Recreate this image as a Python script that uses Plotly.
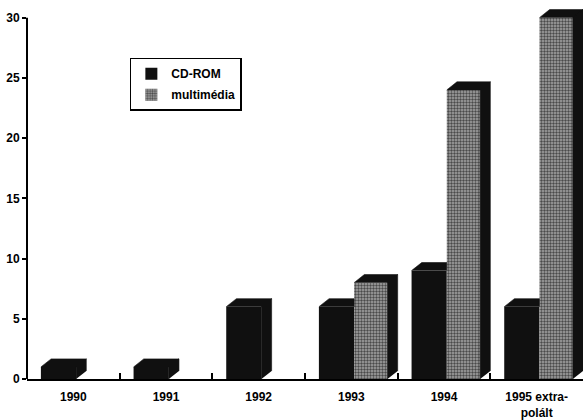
import plotly.graph_objects as go

# Data
years = ["1990", "1991", "1992", "1993", "1994", "1995 extra-<br>polált"]
cdrom = [1, 1, 6, 6, 9, 6]
multimedia = [0, 0, 0, 8, 24, 30]
y_ticks = [0, 5, 10, 15, 20, 25, 30]

# Bar geometry (in category units) and pseudo-3D depth
CD_OFF, CD_W = -0.35, 0.38
MM_OFF, MM_W = 0.03, 0.36
DX, DY = 0.11, 0.67

xs = list(range(len(years)))
FONT = "Liberation Sans"
INK = "#101010"

fig = go.Figure()

fig.add_trace(go.Bar(
    x=xs, y=cdrom, name="CD-ROM", offset=CD_OFF, width=CD_W,
    marker=dict(color=INK, line=dict(width=0)),
    legendgroup="a",
))
fig.add_trace(go.Bar(
    x=xs, y=multimedia, name="multimédia", offset=MM_OFF, width=MM_W,
    marker=dict(color="#8e8e8e", line=dict(width=0),
                pattern=dict(shape=".", bgcolor="#a6a6a6", fgcolor="#4a4a4a",
                             size=3, solidity=0.5, fillmode="replace")),
    legendgroup="b",
))

# Depth faces (top and right side) built from the bar values
px_, py_ = [], []


def face(pts):
    for a, b in pts:
        px_.append(a)
        py_.append(b)
    px_.append(None)
    py_.append(None)


for i, (c, m) in enumerate(zip(cdrom, multimedia)):
    if c > 0:
        x0, x1 = i + CD_OFF, i + CD_OFF + CD_W
        hidden = m >= c + DY
        right = x1 if hidden else x1 + DX
        face([(x0, c), (x0 + DX, c + DY), (right, c + DY), (x1, c)])
        if not hidden:
            face([(x1, 0), (x1, c), (x1 + DX, c + DY), (x1 + DX, DY)])
    if m > 0:
        x0, x1 = i + MM_OFF, i + MM_OFF + MM_W
        face([(x0, m), (x0 + DX, m + DY), (x1 + DX, m + DY), (x1, m)])
        face([(x1, 0), (x1, m), (x1 + DX, m + DY), (x1 + DX, DY)])

# Drawn on the overlaid axis (same range) so that its ticks get rendered
fig.add_trace(go.Scatter(
    x=px_, y=py_, xaxis="x2", mode="lines", fill="toself", fillcolor=INK,
    line=dict(width=0.6, color=INK), showlegend=False, hoverinfo="skip",
))

fig.update_layout(
    width=583, height=420,
    margin=dict(l=27, r=0, t=8, b=41),
    paper_bgcolor="white", plot_bgcolor="white",
    showlegend=True,
    legend=dict(
        x=0.185, y=0.866, xanchor="left", yanchor="top",
        bordercolor="black", borderwidth=1.5, bgcolor="white",
        font=dict(family=FONT, size=12, color="black", weight="bold"),
        traceorder="grouped", tracegroupgap=2,
        itemwidth=30,
    ),
    font=dict(family=FONT, color="black"),
)

fig.update_xaxes(
    range=[-0.5, 5.5],
    tickvals=xs, ticktext=years, ticks="", ticklabelstandoff=6,
    tickfont=dict(family=FONT, size=12, color="black", weight="bold"),
    showgrid=False, zeroline=False,
    showline=True, linecolor="black", linewidth=2,
)

# Overlaid axis carrying the small upward ticks between categories
fig.update_layout(xaxis2=dict(
    overlaying="x", anchor="y", side="bottom", range=[-0.5, 5.5],
    tickvals=[i + 0.5 for i in xs[:-1]], ticks="inside", ticklen=6,
    tickwidth=2, tickcolor="black", showticklabels=False,
    showgrid=False, zeroline=False, showline=False,
))

fig.update_yaxes(
    range=[0, 30.8],
    tickvals=y_ticks, ticks="outside", ticklen=4, tickwidth=2,
    tickcolor="black",
    tickfont=dict(family=FONT, size=12, color="black", weight="bold"),
    showgrid=False, zeroline=False, showline=False,
)

# Vertical axis line spanning the tick range
fig.add_shape(type="line", xref="paper", yref="y", x0=0, x1=0,
              y0=y_ticks[0], y1=y_ticks[-1],
              line=dict(color="black", width=2))

fig.write_html("out.html")
